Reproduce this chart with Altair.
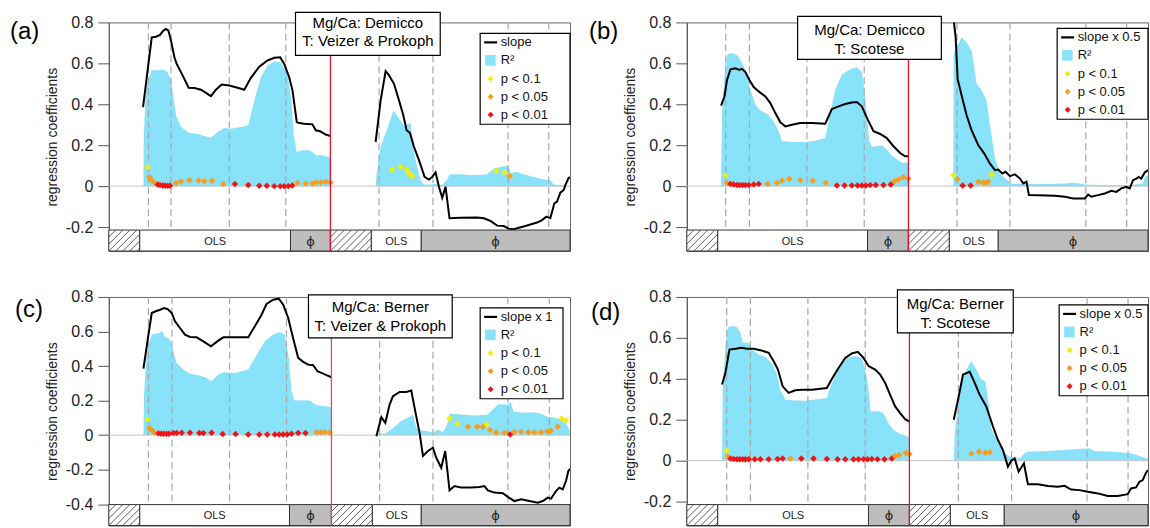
import altair as alt
import pandas as pd

FONT = "Liberation Sans"
CYAN = "#88e2f9"
P_DOMAIN = ["y", "o", "r"]
P_RANGE = ["#f2ef0c", "#f89c1c", "#f01414"]

W = 462
H_MAIN = 208
H_BAR = 21
H = H_MAIN + H_BAR

# ------------------------------------------------------------------ data (a)
A_SLOPE_L_X = [34.3, 38.0, 43.0, 47.3, 51.3, 54.7, 57.3, 59.7, 62.3, 65.7, 68.0, 72.3, 80.0, 85.7, 92.3, 97.3, 102.3, 107.3, 113.0, 120.7, 129.0, 135.7, 142.3, 150.7, 159.0, 165.7, 171.7, 175.7, 180.7, 184.0, 188.3, 190.7, 195.7, 204.0, 207.3, 211.7, 217.3, 222.0]
A_SLOPE_L_Y = [0.386, 0.532, 0.727, 0.730, 0.739, 0.760, 0.768, 0.760, 0.711, 0.630, 0.597, 0.557, 0.481, 0.479, 0.471, 0.456, 0.440, 0.471, 0.497, 0.492, 0.481, 0.471, 0.529, 0.584, 0.614, 0.627, 0.630, 0.597, 0.532, 0.468, 0.313, 0.308, 0.305, 0.302, 0.273, 0.268, 0.252, 0.245]
A_SLOPE_R_X = [267.3, 272.3, 277.3, 280.7, 285.7, 290.7, 295.0, 298.3, 301.7, 305.7, 310.7, 316.3, 320.7, 324.0, 327.3, 330.7, 334.0, 337.3, 341.3, 352.3, 369.0, 375.7, 382.3, 389.0, 395.7, 400.7, 405.7, 410.7, 417.3, 424.0, 429.0, 434.0, 438.3, 442.3, 446.3, 449.0, 452.3, 455.7, 457.3, 460.7, 462.0]
A_SLOPE_R_Y = [0.216, 0.419, 0.562, 0.541, 0.500, 0.419, 0.346, 0.273, 0.260, 0.192, 0.127, 0.045, 0.032, 0.045, 0.067, -0.003, -0.057, -0.003, -0.157, -0.154, -0.153, -0.157, -0.170, -0.193, -0.195, -0.208, -0.211, -0.203, -0.195, -0.185, -0.178, -0.166, -0.149, -0.157, -0.084, -0.076, -0.032, -0.019, 0.005, 0.041, 0.041]
A_R2_L_X = [34.7, 35.0, 37.3, 43.0, 49.0, 54.7, 59.0, 62.3, 65.7, 67.3, 72.3, 80.7, 89.0, 94.0, 102.3, 109.0, 115.7, 122.3, 132.3, 139.7, 145.7, 152.3, 159.0, 165.7, 172.3, 179.0, 183.0, 185.0, 188.3, 194.0, 200.7, 204.0, 207.3, 214.0, 219.0, 222.0]
A_R2_L_Y = [0, 0.24, 0.484, 0.568, 0.565, 0.570, 0.557, 0.516, 0.403, 0.346, 0.289, 0.260, 0.256, 0.248, 0.237, 0.265, 0.284, 0.281, 0.289, 0.297, 0.419, 0.532, 0.589, 0.609, 0.606, 0.549, 0.419, 0.256, 0.167, 0.175, 0.175, 0.167, 0.151, 0.151, 0.143, 0.143]
A_R2_R_X = [267.3, 268.3, 272.3, 279.0, 285.0, 290.7, 296.3, 299.0, 302.3, 304.0, 307.3, 312.3, 315.7, 322.3, 329.0, 334.0, 338.3, 341.7, 352.3, 362.3, 372.3, 379.0, 385.7, 392.3, 400.7, 402.3, 407.3, 415.7, 425.7, 435.7, 442.3, 445.7, 452.3, 462.0]
A_R2_R_Y = [0, 0.062, 0.192, 0.281, 0.370, 0.330, 0.292, 0.305, 0.308, 0.208, 0.127, 0.029, 0.008, 0.008, 0.013, 0.005, 0.029, 0.058, 0.058, 0.054, 0.054, 0.058, 0.086, 0.094, 0.101, 0.062, 0.070, 0.058, 0.045, 0.032, 0.029, 0.008, 0.005, 0.0]
A_PTS_X = [39.0, 40.7, 43.0, 45.7, 49.0, 51.3, 54.0, 56.3, 59.0, 61.3, 67.3, 72.3, 80.7, 90.0, 95.7, 103.3, 114.7, 126.3, 139.7, 150.7, 158.3, 165.7, 171.7, 175.7, 179.7, 183.7, 189.0, 197.3, 204.0, 208.0, 212.3, 217.3, 222.0,
           284.0, 292.3, 298.3, 300.7, 304.0, 388.0, 396.3, 401.7]
A_PTS_Y = [0.094, 0.045, 0.029, 0.016, 0.008, 0.005, 0.003, 0.002, 0.002, 0.002, 0.016, 0.023, 0.029, 0.028, 0.024, 0.026, 0.010, 0.010, 0.006, 0.002, 0.002, 0.0, 0.0, 0.0, 0.0, 0.003, 0.016, 0.013, 0.013, 0.019, 0.019, 0.021, 0.018,
           0.081, 0.094, 0.081, 0.062, 0.049, 0.075, 0.067, 0.049]
A_PTS_P = ["y", "o", "o", "o", "r", "r", "r", "r", "r", "r", "o", "o", "o", "o", "o", "o", "o", "r", "r", "r", "r", "r", "r", "r", "r", "r", "o", "o", "o", "o", "o", "o", "o",
           "y", "y", "y", "y", "y", "y", "y", "o"]
A_DASHES = [39.7, 62.3, 120.7, 177.3, 270.7, 324.7, 400.0, 440.7]
A_BAR_EDGES = [0, 31, 182, 222, 263, 313, 462]

# ------------------------------------------------------------------ data (b)
B_SLOPE_L_X = [34.3, 37.7, 40.3, 43.7, 48.7, 52.7, 55.3, 58.7, 62.7, 67.0, 72.0, 78.7, 83.7, 88.7, 93.7, 98.7, 105.3, 113.7, 125.3, 138.7, 145.3, 152.0, 158.7, 165.3, 170.3, 175.3, 181.3, 187.0, 193.7, 200.3, 207.0, 213.7, 218.7, 222.0]
B_SLOPE_L_Y = [0.393, 0.438, 0.519, 0.571, 0.576, 0.568, 0.573, 0.557, 0.519, 0.484, 0.463, 0.438, 0.406, 0.357, 0.312, 0.292, 0.300, 0.308, 0.308, 0.305, 0.377, 0.390, 0.401, 0.409, 0.411, 0.390, 0.325, 0.268, 0.255, 0.235, 0.195, 0.162, 0.146, 0.146]
B_SLOPE_R_X = [266.5, 269.3, 271.3, 275.3, 280.3, 285.3, 292.0, 298.0, 303.7, 308.7, 312.0, 316.0, 319.3, 323.7, 328.7, 333.7, 337.0, 340.3, 342.7, 352.0, 368.7, 378.7, 387.0, 398.7, 402.0, 405.3, 412.0, 418.7, 425.3, 430.3, 435.3, 440.3, 443.7, 447.0, 450.3, 452.7, 455.3, 458.7, 462.0]
B_SLOPE_R_Y = [0.85, 0.727, 0.524, 0.443, 0.346, 0.273, 0.200, 0.159, 0.110, 0.078, 0.081, 0.062, 0.070, 0.049, 0.058, 0.037, 0.013, 0.021, -0.044, -0.045, -0.047, -0.052, -0.060, -0.060, -0.041, -0.052, -0.044, -0.036, -0.023, -0.028, -0.011, -0.003, -0.011, 0.029, 0.037, 0.045, 0.037, 0.067, 0.078]
B_R2_L_X = [34.3, 35.3, 38.7, 41.0, 45.3, 50.3, 53.7, 57.0, 60.3, 63.7, 68.7, 73.7, 80.3, 87.0, 92.0, 95.3, 105.3, 118.7, 128.7, 138.7, 143.7, 148.7, 155.3, 163.7, 170.3, 175.3, 178.0, 180.7, 182.7, 185.3, 190.3, 195.3, 200.3, 205.3, 210.3, 215.3, 222.0]
B_R2_L_Y = [0, 0.357, 0.600, 0.646, 0.649, 0.641, 0.617, 0.584, 0.544, 0.471, 0.398, 0.370, 0.354, 0.317, 0.268, 0.219, 0.216, 0.216, 0.222, 0.235, 0.357, 0.471, 0.544, 0.571, 0.581, 0.560, 0.471, 0.325, 0.219, 0.192, 0.195, 0.198, 0.179, 0.149, 0.133, 0.114, 0.117]
B_R2_R_X = [267.0, 267.3, 270.3, 275.3, 280.3, 285.3, 290.3, 295.3, 300.3, 303.7, 308.7, 313.7, 318.7, 325.3, 332.0, 345.3, 362.0, 378.7, 388.7, 398.7, 412.0, 428.7, 445.3, 457.0, 458.7, 462.0]
B_R2_R_Y = [0, 0.646, 0.679, 0.727, 0.703, 0.662, 0.500, 0.468, 0.419, 0.297, 0.135, 0.062, 0.037, 0.013, 0.010, 0.011, 0.010, 0.013, 0.016, 0.008, 0.006, 0.005, 0.005, 0.013, 0.045, 0.054]
B_PTS_X = [38.7, 40.3, 43.7, 47.0, 50.3, 53.0, 56.0, 58.7, 62.0, 67.0, 72.0, 81.0, 90.3, 95.3, 102.7, 113.7, 126.3, 139.3, 150.3, 158.0, 165.3, 171.0, 175.3, 179.3, 183.7, 189.3, 197.0, 204.3, 208.0, 212.0, 217.0, 222.0,
           267.0, 271.3, 276.3, 284.3, 292.0, 297.0, 299.7, 302.0, 305.3]
B_PTS_Y = [0.052, 0.016, 0.011, 0.008, 0.006, 0.005, 0.005, 0.005, 0.005, 0.008, 0.011, 0.010, 0.016, 0.028, 0.036, 0.029, 0.026, 0.016, 0.003, 0.003, 0.003, 0.003, 0.003, 0.003, 0.005, 0.006, 0.006, 0.008, 0.024, 0.032, 0.045, 0.036,
           0.054, 0.034, 0.003, 0.003, 0.021, 0.018, 0.018, 0.021, 0.057]
B_PTS_P = ["y", "o", "r", "r", "r", "r", "r", "r", "r", "r", "r", "o", "o", "o", "o", "o", "o", "o", "r", "r", "r", "r", "r", "r", "r", "r", "r", "r", "o", "o", "o", "o",
           "y", "o", "r", "r", "o", "o", "o", "o", "y"]
B_DASHES = [39.0, 62.7, 120.3, 177.7, 270.7, 323.7, 399.7, 440.7]
B_BAR_EDGES = [0, 31, 181, 222, 263, 312, 462]

# ------------------------------------------------------------------ data (c)
C_SLOPE_L_X = [34.7, 38.7, 43.0, 47.0, 51.3, 55.3, 59.0, 63.0, 66.3, 71.3, 76.3, 81.3, 88.0, 94.7, 102.3, 109.7, 114.7, 126.3, 139.7, 146.3, 153.0, 158.0, 164.7, 170.3, 174.7, 179.7, 183.7, 189.7, 194.7, 199.7, 204.7, 209.0, 213.0, 218.0, 223.0]
C_SLOPE_L_Y = [0.385, 0.543, 0.707, 0.717, 0.726, 0.736, 0.730, 0.707, 0.659, 0.620, 0.582, 0.568, 0.566, 0.543, 0.514, 0.547, 0.566, 0.566, 0.566, 0.630, 0.697, 0.759, 0.784, 0.790, 0.755, 0.678, 0.582, 0.447, 0.424, 0.408, 0.405, 0.370, 0.360, 0.347, 0.335]
C_SLOPE_R_X = [268.0, 273.0, 277.0, 281.3, 284.7, 291.3, 298.0, 303.0, 306.3, 311.3, 314.7, 319.7, 324.7, 328.0, 333.0, 337.0, 341.3, 346.3, 353.0, 363.0, 371.3, 376.3, 379.7, 386.3, 394.7, 399.7, 406.3, 413.0, 421.3, 429.7, 434.7, 439.7, 443.0, 448.0, 451.3, 454.7, 458.0, 460.3, 462.0]
C_SLOPE_R_Y = [-0.006, 0.104, 0.071, 0.177, 0.225, 0.250, 0.250, 0.258, 0.158, 0.013, -0.121, -0.092, -0.073, -0.131, -0.189, -0.092, -0.320, -0.295, -0.304, -0.304, -0.301, -0.295, -0.320, -0.333, -0.337, -0.358, -0.382, -0.372, -0.382, -0.391, -0.382, -0.362, -0.368, -0.324, -0.304, -0.314, -0.266, -0.208, -0.195]
C_R2_L_X = [34.7, 35.3, 38.0, 43.0, 49.0, 53.7, 55.7, 61.3, 64.7, 68.0, 74.7, 81.3, 89.7, 96.3, 103.0, 109.7, 114.7, 126.3, 139.7, 146.3, 156.3, 164.7, 171.3, 176.3, 180.3, 183.0, 186.3, 193.0, 201.3, 208.0, 214.7, 223.0]
C_R2_L_Y = [0, 0.235, 0.486, 0.582, 0.588, 0.601, 0.572, 0.553, 0.486, 0.418, 0.380, 0.355, 0.347, 0.335, 0.312, 0.351, 0.364, 0.360, 0.380, 0.447, 0.543, 0.582, 0.597, 0.582, 0.447, 0.254, 0.200, 0.202, 0.200, 0.173, 0.168, 0.162]
C_R2_R_X = [268.0, 271.3, 276.3, 283.0, 293.0, 301.3, 304.7, 308.0, 313.0, 319.7, 324.7, 329.7, 334.7, 339.0, 341.3, 353.0, 366.3, 379.7, 384.7, 389.7, 399.7, 402.3, 405.7, 416.3, 426.3, 433.0, 439.7, 446.3, 453.0, 458.0, 461.3, 462.0]
C_R2_R_Y = [0, 0.010, 0.008, 0.033, 0.081, 0.106, 0.119, 0.042, 0.027, 0.023, 0.013, 0.033, 0.017, 0.062, 0.125, 0.119, 0.114, 0.119, 0.148, 0.177, 0.177, 0.191, 0.135, 0.129, 0.133, 0.123, 0.106, 0.100, 0.091, 0.066, 0.033, 0.0]
C_PTS_X = [38.7, 40.7, 43.0, 45.7, 49.7, 52.3, 55.0, 57.7, 60.3, 64.7, 68.0, 73.0, 81.3, 90.7, 94.7, 103.0, 114.0, 127.0, 139.7, 150.7, 158.7, 166.3, 170.7, 174.7, 178.7, 183.0, 189.7, 197.0, 208.0, 212.3, 216.3, 221.3,
           341.3, 349.0, 359.7, 369.0, 374.7, 378.7, 382.0, 388.0, 396.3, 402.0, 406.3, 413.0, 420.3, 426.3, 433.0, 439.0, 443.0, 449.7, 453.7, 458.0]
C_PTS_Y = [0.091, 0.042, 0.029, 0.015, 0.010, 0.008, 0.008, 0.008, 0.008, 0.012, 0.012, 0.013, 0.013, 0.012, 0.012, 0.013, 0.006, 0.006, 0.004, 0.004, 0.004, 0.004, 0.004, 0.004, 0.004, 0.008, 0.012, 0.012, 0.017, 0.017, 0.017, 0.015,
           0.096, 0.066, 0.048, 0.048, 0.048, 0.062, 0.029, 0.013, 0.013, 0.004, 0.019, 0.019, 0.017, 0.017, 0.017, 0.021, 0.025, 0.048, 0.096, 0.085]
C_PTS_P = ["y", "o", "o", "o"] + ["r"] * 24 + ["o", "o", "o", "o",
           "y", "y", "o", "o", "o", "y", "o", "o", "o", "r", "o", "o", "o", "o", "o", "o", "o", "o", "y", "y"]
C_DASHES = [39.7, 63.3, 121.0, 178.0, 271.3, 324.7, 399.7, 441.3]
C_BAR_EDGES = [0, 31, 181, 223, 264, 313, 462]

# ------------------------------------------------------------------ data (d)
D_SLOPE_L_X = [35.3, 38.7, 42.7, 48.7, 54.7, 60.3, 67.0, 73.7, 82.0, 87.0, 91.3, 96.0, 102.0, 108.7, 115.3, 125.3, 140.3, 145.3, 152.0, 158.7, 165.3, 171.3, 177.0, 182.0, 188.7, 193.7, 198.7, 203.7, 208.7, 213.7, 218.7, 223.0]
D_SLOPE_L_Y = [0.372, 0.429, 0.543, 0.547, 0.552, 0.547, 0.547, 0.540, 0.527, 0.486, 0.445, 0.363, 0.331, 0.344, 0.347, 0.347, 0.355, 0.399, 0.453, 0.502, 0.524, 0.532, 0.502, 0.462, 0.445, 0.421, 0.380, 0.322, 0.265, 0.232, 0.203, 0.191]
D_SLOPE_R_X = [267.4, 271.7, 276.7, 283.4, 288.4, 293.4, 300.0, 306.7, 311.7, 316.7, 321.7, 325.0, 328.4, 332.4, 337.7, 341.7, 351.7, 361.7, 371.7, 378.4, 385.0, 393.4, 401.7, 411.7, 421.7, 431.7, 441.7, 445.0, 450.0, 453.4, 456.7, 460.0, 462.0]
D_SLOPE_R_Y = [0.200, 0.298, 0.421, 0.434, 0.380, 0.322, 0.265, 0.167, 0.101, 0.052, -0.029, 0.0, 0.011, -0.054, -0.013, -0.115, -0.115, -0.124, -0.128, -0.123, -0.141, -0.144, -0.152, -0.160, -0.173, -0.173, -0.164, -0.136, -0.131, -0.103, -0.095, -0.059, -0.046]
D_R2_L_X = [35.3, 36.0, 38.7, 41.0, 45.3, 50.3, 53.7, 56.0, 62.0, 65.3, 72.0, 78.7, 85.3, 90.3, 93.7, 98.7, 105.3, 118.7, 132.0, 140.3, 145.3, 152.0, 160.3, 168.7, 175.3, 179.3, 182.0, 184.0, 192.0, 197.0, 202.0, 207.0, 212.0, 217.0, 223.0]
D_R2_L_Y = [0, 0.347, 0.560, 0.650, 0.658, 0.653, 0.625, 0.576, 0.576, 0.543, 0.519, 0.507, 0.475, 0.421, 0.347, 0.298, 0.295, 0.293, 0.301, 0.306, 0.380, 0.445, 0.502, 0.511, 0.502, 0.429, 0.347, 0.241, 0.241, 0.232, 0.183, 0.151, 0.134, 0.126, 0.113]
D_R2_R_X = [267.4, 268.4, 273.4, 280.0, 285.0, 290.0, 295.0, 299.0, 301.0, 305.0, 311.7, 318.4, 325.0, 333.4, 338.4, 341.7, 361.7, 378.4, 391.7, 403.4, 408.4, 428.4, 445.0, 455.0, 461.7, 462.0]
D_R2_R_Y = [0, 0.134, 0.347, 0.445, 0.486, 0.445, 0.396, 0.388, 0.331, 0.159, 0.085, 0.036, 0.016, 0.010, 0.036, 0.044, 0.047, 0.052, 0.057, 0.061, 0.047, 0.044, 0.036, 0.020, 0.011, 0.0]
D_PTS_X = [39.7, 41.0, 43.7, 47.0, 50.3, 53.0, 56.0, 58.7, 62.0, 68.0, 73.7, 82.0, 91.0, 96.0, 103.7, 114.7, 127.0, 140.3, 151.0, 158.7, 167.0, 172.0, 177.0, 181.0, 185.3, 191.0, 198.0, 205.3, 208.7, 212.7, 219.3, 223.0,
           285.0, 292.7, 299.0, 303.4]
D_PTS_Y = [0.049, 0.020, 0.011, 0.008, 0.007, 0.007, 0.007, 0.007, 0.007, 0.007, 0.007, 0.007, 0.008, 0.011, 0.011, 0.011, 0.011, 0.008, 0.007, 0.007, 0.007, 0.007, 0.007, 0.007, 0.008, 0.007, 0.007, 0.011, 0.023, 0.028, 0.039, 0.033,
           0.034, 0.044, 0.039, 0.041]
D_PTS_P = ["y", "o"] + ["r"] * 12 + ["o"] + ["r"] * 13 + ["o", "o", "o", "o", "o", "o", "o", "o"]
D_DASHES = [40.0, 63.7, 121.3, 178.7, 272.0, 325.3, 401.0, 442.0]
D_BAR_EDGES = [0, 31, 182, 223, 264, 318, 462]

BAR_KINDS = ["hatch", "OLS", "phi", "hatch", "OLS", "phi"]
LEGEND_P_LABELS = ["p < 0.1", "p < 0.05", "p < 0.01"]

ONE = pd.DataFrame({"k": [0]})


def seg_frame(lx, ly, rx, ry):
    return pd.DataFrame({"x": lx + rx, "y": ly + ry,
                         "seg": ["L"] * len(lx) + ["R"] * len(rx)})


def hatch_frame(edges, ppu):
    rows = []
    for i, k in enumerate(BAR_KINDS):
        if k != "hatch":
            continue
        x0, x1 = edges[i], edges[i + 1]
        t = x0 - H_BAR
        while t < x1:
            sx, sy = t, H
            ex, ey = t + H_BAR, H_MAIN
            if sx < x0:
                sy = H - (x0 - t)
                sx = x0
            if ex > x1:
                ey = H - (x1 - t)
                ex = x1
            if ex > sx:
                rows.append({"x0": sx, "x1": ex, "y0": 0.8 - sy / ppu, "y1": 0.8 - ey / ppu})
            t += 7
    return pd.DataFrame(rows)


def panel(P):
    ppu = P["ppu"]
    ybot = 0.8 - H / ppu
    xs = alt.Scale(domain=[0, W], nice=False, zero=False)
    ys = alt.Scale(domain=[ybot, 0.8], nice=False, zero=False)
    yaxis = alt.Axis(values=P["ticks"], grid=False, title="regression coefficients",
                     labelExpr="datum.value == 0 ? '0' : (datum.value < 0 ? '-' + format(-datum.value, '.1f') : format(datum.value, '.1f'))",
                     tickSize=11, labelPadding=5, titlePadding=6, labelFontSize=16, titleFontSize=14,
                     titleFontWeight="normal", labelFont=FONT, titleFont=FONT, labelColor="#222", titleColor="#222",
                     tickColor="#555", domainColor="#555")

    def X(f):
        return alt.X(f, type="quantitative", scale=xs, axis=None)

    def Y(f):
        return alt.Y(f, type="quantitative", scale=ys, axis=yaxis)

    r2 = seg_frame(P["r2lx"], P["r2ly"], P["r2rx"], P["r2ry"])
    sl = seg_frame(P["slx"], P["sly"], P["srx"], P["sry"])
    pts = pd.DataFrame({"x": P["px"], "y": P["py"], "p": P["pp"]})
    edges = P["edges"]
    bars = pd.DataFrame({"x0": edges[:-1], "x1": edges[1:], "kind": BAR_KINDS})
    bars["xc"] = (bars["x0"] + bars["x1"]) / 2

    layers = []
    layers.append(alt.Chart(r2).mark_area(color=CYAN, opacity=1).encode(
        x=X("x"), y=Y("y"), y2=alt.datum(0), detail="seg:N"))
    layers.append(alt.Chart(pd.DataFrame({"x": P["dashes"]})).mark_rule(
        color="#a8a8a8", strokeWidth=1.2, strokeDash=[7, 4]).encode(
        x=X("x"), y=alt.value(0), y2=alt.value(H_MAIN)))
    layers.append(alt.Chart(ONE).mark_rule(color="#c4c4c4", strokeWidth=1).encode(
        y=alt.YDatum(0, scale=ys, axis=yaxis)))
    layers.append(alt.Chart(sl).mark_line(color="black", strokeWidth=2, clip=True).encode(
        x=X("x"), y=Y("y"), detail="seg:N"))
    layers.append(alt.Chart(pts).mark_point(shape="diamond", filled=True, size=42, opacity=1).encode(
        x=X("x"), y=Y("y"),
        color=alt.Color("p:N", scale=alt.Scale(domain=P_DOMAIN, range=P_RANGE), legend=None)))
    # bottom method bar
    layers.append(alt.Chart(bars).mark_rect(stroke="#333", strokeWidth=1).encode(
        x=X("x0"), x2="x1", y=alt.value(H_MAIN), y2=alt.value(H),
        fill=alt.Fill("kind:N", scale=alt.Scale(domain=["hatch", "OLS", "phi"],
                                                range=["white", "white", "#bdbdbd"]), legend=None)))
    layers.append(alt.Chart(hatch_frame(edges, ppu)).mark_rule(color="#333", strokeWidth=0.8).encode(
        x=X("x0"), x2="x1", y=Y("y0"), y2="y1"))
    layers.append(alt.Chart(bars[bars.kind == "OLS"]).mark_text(
        font=FONT, fontSize=11, color="#222", baseline="middle", text="OLS").encode(
        x=X("xc"), y=alt.value(H_MAIN + H_BAR / 2 + 1)))
    layers.append(alt.Chart(bars[bars.kind == "phi"]).mark_text(
        font="DejaVu Sans", fontSize=13, color="#222", baseline="middle", text="\u03d5").encode(
        x=X("xc"), y=alt.value(H_MAIN + H_BAR / 2 + 1)))
    # red separator
    tx0, tx1, ty0, ty1 = P["tbox"]
    layers.append(alt.Chart(ONE).mark_rule(color=P["red"], strokeWidth=1.3).encode(
        x=alt.XDatum(P["redx"], scale=xs, axis=None), y=alt.value(ty1), y2=alt.value(H)))
    # title box
    layers.append(alt.Chart(ONE).mark_rect(fill="white", stroke="black", strokeWidth=1.2).encode(
        x=alt.value(tx0), x2=alt.value(tx1), y=alt.value(ty0), y2=alt.value(ty1)))
    for txt, dy in zip(P["title"], P["tlines"]):
        layers.append(alt.Chart(ONE).mark_text(font=FONT, fontSize=15, color="black", align="center",
                                               baseline="middle", text=txt).encode(
            x=alt.value((tx0 + tx1) / 2), y=alt.value(ty0 + dy)))
    # legend
    lx0, lx1, ly0 = P["leg"]
    layers.append(alt.Chart(ONE).mark_rect(fill="white", stroke="black", strokeWidth=1.2).encode(
        x=alt.value(lx0), x2=alt.value(lx1), y=alt.value(ly0), y2=alt.value(ly0 + 91)))
    offs = [9, 27, 45.5, 63.5, 81.5]
    layers.append(alt.Chart(ONE).mark_rule(color="black", strokeWidth=2.2).encode(
        x=alt.value(lx0 + 4), x2=alt.value(lx0 + 17), y=alt.value(ly0 + offs[0]), y2=alt.value(ly0 + offs[0])))
    layers.append(alt.Chart(ONE).mark_rect(fill=CYAN).encode(
        x=alt.value(lx0 + 5), x2=alt.value(lx0 + 15.5), y=alt.value(ly0 + offs[1] - 5.3), y2=alt.value(ly0 + offs[1] + 5.3)))
    for i in range(3):
        layers.append(alt.Chart(ONE).mark_point(shape="diamond", filled=True, size=36, opacity=1,
                                                color=P_RANGE[i]).encode(
            x=alt.value(lx0 + 10.5), y=alt.value(ly0 + offs[2 + i])))
    labels = [P["slope_lab"], "R\u00b2"] + LEGEND_P_LABELS
    for lab, o in zip(labels, offs):
        layers.append(alt.Chart(ONE).mark_text(font=FONT, fontSize=13, color="#111", align="left",
                                               baseline="middle", text=lab).encode(
            x=alt.value(lx0 + 20.5), y=alt.value(ly0 + o)))
    # panel letter
    layers.append(alt.Chart(ONE).mark_text(font=FONT, fontSize=24, color="black", align="left",
                                           baseline="middle", text=P["letter"]).encode(
        x=alt.value(P["letter_pos"][0]), y=alt.value(P["letter_pos"][1])))
    if P.get("anchor"):
        layers.append(alt.Chart(ONE).mark_rect(opacity=0).encode(
            x=alt.value(-108), x2=alt.value(-107), y=alt.value(-21), y2=alt.value(-20)))
    return alt.layer(*layers).properties(width=W, height=H)


PA = dict(ppu=205.0, ticks=[-0.2, 0, 0.2, 0.4, 0.6, 0.8],
          slx=A_SLOPE_L_X, sly=A_SLOPE_L_Y, srx=A_SLOPE_R_X, sry=A_SLOPE_R_Y,
          r2lx=A_R2_L_X, r2ly=A_R2_L_Y, r2rx=A_R2_R_X, r2ry=A_R2_R_Y,
          px=A_PTS_X, py=A_PTS_Y, pp=A_PTS_P, dashes=A_DASHES, edges=A_BAR_EDGES,
          redx=222, red="#e3122c", tbox=(187, 332, -10, 33), tlines=(10.5, 28.5),
          title=["Mg/Ca: Demicco", "T: Veizer & Prokoph"], leg=(372, 462, 11),
          slope_lab="slope", letter="(a)", letter_pos=(-99, 10), anchor=True)
PB = dict(ppu=205.0, ticks=[-0.2, 0, 0.2, 0.4, 0.6, 0.8],
          slx=B_SLOPE_L_X, sly=B_SLOPE_L_Y, srx=B_SLOPE_R_X, sry=B_SLOPE_R_Y,
          r2lx=B_R2_L_X, r2ly=B_R2_L_Y, r2rx=B_R2_R_X, r2ry=B_R2_R_Y,
          px=B_PTS_X, py=B_PTS_Y, pp=B_PTS_P, dashes=B_DASHES, edges=B_BAR_EDGES,
          redx=222, red="#e3122c", tbox=(111, 255, -6, 37), tlines=(14, 33),
          title=["Mg/Ca: Demicco", "T: Scotese"], leg=(371, 462, 6),
          slope_lab="slope x 0.5", letter="(b)", letter_pos=(-98, 10))
PC = dict(ppu=173.0, ticks=[-0.4, -0.2, 0, 0.2, 0.4, 0.6, 0.8],
          slx=C_SLOPE_L_X, sly=C_SLOPE_L_Y, srx=C_SLOPE_R_X, sry=C_SLOPE_R_Y,
          r2lx=C_R2_L_X, r2ly=C_R2_L_Y, r2rx=C_R2_R_X, r2ry=C_R2_R_Y,
          px=C_PTS_X, py=C_PTS_Y, pp=C_PTS_P, dashes=C_DASHES, edges=C_BAR_EDGES,
          redx=223, red="#d6506c", tbox=(200, 344, -2, 41), tlines=(12, 31),
          title=["Mg/Ca: Berner", "T: Veizer & Prokoph"], leg=(372, 455, 11),
          slope_lab="slope x 1", letter="(c)", letter_pos=(-94, 13))
PD = dict(ppu=205.0, ticks=[-0.2, 0, 0.2, 0.4, 0.6, 0.8],
          slx=D_SLOPE_L_X, sly=D_SLOPE_L_Y, srx=D_SLOPE_R_X, sry=D_SLOPE_R_Y,
          r2lx=D_R2_L_X, r2ly=D_R2_L_Y, r2rx=D_R2_R_X, r2ry=D_R2_R_Y,
          px=D_PTS_X, py=D_PTS_Y, pp=D_PTS_P, dashes=D_DASHES, edges=D_BAR_EDGES,
          redx=223, red="#e3122c", tbox=(211, 327, -7, 36), tlines=(14.3, 33.5),
          title=["Mg/Ca: Berner", "T: Scotese"], leg=(373, 462, 8),
          slope_lab="slope x 0.5", letter="(d)", letter_pos=(-96, 16))

chart = alt.concat(panel(PA), panel(PB), panel(PC), panel(PD), columns=2,
                   spacing={"row": 46, "column": 117}, bounds="flush").properties(
    padding=0, background="white"
).configure_view(stroke="#666", strokeWidth=1)

chart.save("out.html", embed_options={"renderer": "svg", "actions": False})
